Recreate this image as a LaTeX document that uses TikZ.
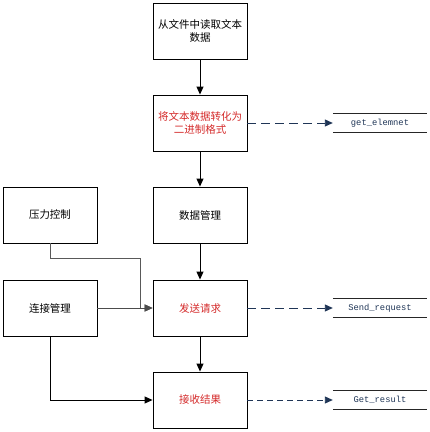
\documentclass[tikz,border=0pt]{standalone}
\usepackage{fontspec}
\setmainfont{Noto Sans CJK SC}
\setmonofont{Liberation Mono}
\usetikzlibrary{arrows.meta}
\definecolor{navy}{HTML}{1F3556}
\definecolor{redtxt}{HTML}{D42A2A}
\begin{document}
\begin{tikzpicture}[x=1pt,y=-1pt,
  box/.style={draw=black,line width=0.9pt,minimum width=94pt,minimum height=56pt,inner sep=1pt,align=center,font=\fontsize{10.5}{13}\selectfont},
  redbox/.style={box,text=redtxt},
  conn/.style={line width=0.9pt,-{Triangle[length=8pt,width=7pt]}},
  dconn/.style={draw=navy,line width=0.9pt,dash pattern=on 9pt off 5pt,-{Triangle[length=8pt,width=7pt]}},
  store/.style={minimum width=94pt,minimum height=18pt,inner sep=0pt,text=navy,font=\ttfamily\fontsize{8.8}{10}\selectfont},
  sline/.style={draw=black!85,line width=0.9pt}]
\useasboundingbox (0,0) rectangle (430,432);
\node[box] (b1) at (200,31) {从文件中读取文本\\数据};
\node[redbox] (b2) at (200,123) {将文本数据转化为\\二进制格式};
\node[box] (b3) at (200,215) {数据管理};
\node[box] (b4) at (50,215) {压力控制};
\node[box] (b5) at (50,308) {连接管理};
\node[redbox] (b6) at (200,308) {发送请求};
\node[redbox] (b7) at (200,400) {接收结果};
\node[store] (g1) at (380,123) {get\_elemnet};
\node[store] (g2) at (380,308) {Send\_request};
\node[store] (g3) at (380,400) {Get\_result};
\foreach \n in {g1,g2,g3}{
  \draw[sline] (\n.north west) -- (\n.north east);
  \draw[sline] (\n.south west) -- (\n.south east);
}
\coordinate (c1) at (140,258);
\draw[conn] (b1) -- (b2);
\draw[conn] (b2) -- (b3);
\draw[conn] (b3) -- (b6);
\draw[conn] (b6) -- (b7);
\draw[conn,draw=black!65] (b4.south) |- (c1) |- (b6.west);
\draw[conn,draw=black!70] (b5.east) -- (b6.west);
\draw[conn] (b5.south) |- (b7.west);
\draw[dconn] (b2.east) -- (g1.west);
\draw[dconn] (b6.east) -- (g2.west);
\draw[dconn,dash pattern=on 6pt off 4pt] (b7.east) -- (g3.west);
\end{tikzpicture}
\end{document}
